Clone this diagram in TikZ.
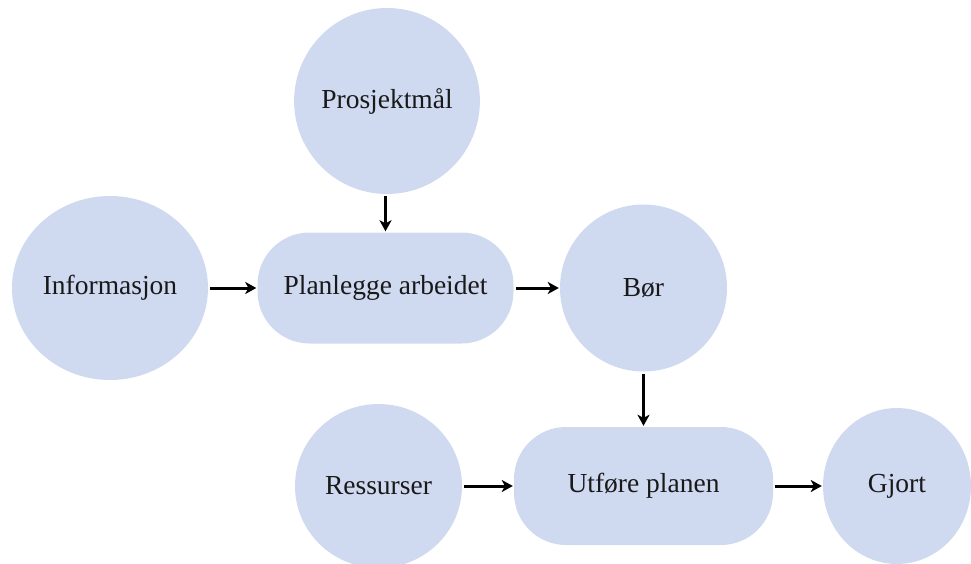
\documentclass[tikz,border=0pt]{standalone}
\usepackage{fontspec}
\setmainfont{Liberation Serif}
\usetikzlibrary{arrows.meta,shapes.geometric}
\definecolor{nodefill}{RGB}{207,218,240}
\begin{document}
\begin{tikzpicture}[x=1pt,y=-1pt,
  every node/.style={font=\fontsize{27.5}{33}\selectfont, text=black!90},
  blob/.style={ellipse, fill=nodefill, inner sep=0pt},
  task/.style={rectangle, rounded corners=52pt, fill=nodefill,
    minimum width=256pt, minimum height=111pt, inner sep=0pt},
  flow/.style={-{Stealth[length=11pt,width=12pt,inset=3pt]}, line width=3pt, shorten <=2pt, shorten >=1pt}]
\useasboundingbox (0,0) rectangle (971,564);
\node[blob, minimum width=185pt, minimum height=186pt] (goal) at (387,101) {Prosjektmål};
\node[blob, minimum width=196pt, minimum height=184pt] (info) at (110,288) {Informasjon};
\node[task] (plan) at (385.5,288) {Planlegge arbeidet};
\node[blob, minimum width=167pt, minimum height=167pt] (should) at (643.5,288) {Bør};
\node[blob, minimum width=167pt, minimum height=164pt] (res) at (378.5,486) {Ressurser};
\node[task, minimum width=259pt, minimum height=118pt] (exec) at (643.5,486) {Utføre planen};
\node[blob, minimum width=148pt, minimum height=156pt] (done) at (897,486) {Gjort};
\draw[flow] (goal.south -| plan.north) -- (plan.north);
\draw[flow] (info.east) -- (plan.west);
\draw[flow] (plan.east) -- (should.west);
\draw[flow] (should.south) -- (exec.north);
\draw[flow] (res.east) -- (exec.west);
\draw[flow] (exec.east) -- (done.west);
\end{tikzpicture}
\end{document}
